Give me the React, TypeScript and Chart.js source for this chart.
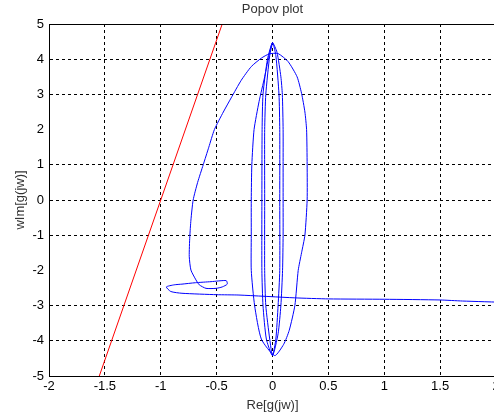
import React, { useEffect, useRef } from "react";
import { Chart, registerables } from "chart.js";

Chart.register(...registerables);

const titleText = "Popov plot";
const xTitle = "Re[g(jw)]";
const yTitle = "wIm[g(jw)]";

const xTicks = [-2, -1.5, -1, -0.5, 0, 0.5, 1, 1.5, 2];
const yTicks = [-5, -4, -3, -2, -1, 0, 1, 2, 3, 4, 5];

// Popov line (red)
const popovLineRe = [-1.55, -0.45];
const popovLineWIm = [-5, 5];

// Popov curve (blue)
const curveRe = [
  2.1, 1.7, 1.5, 1.0, 0.5, 0.2, -0.3, -0.5, -0.81, -0.91, -0.95, -0.88, -0.81, -0.69, -0.55, -0.414,
  -0.405, -0.45, -0.505, -0.595, -0.655, -0.685, -0.73, -0.745, -0.74, -0.73, -0.71, -0.67, -0.62,
  -0.57, -0.52, -0.44, -0.37, -0.28, -0.19, -0.1, -0.03, 0.05, 0.14, 0.22, 0.26, 0.29, 0.305, 0.31,
  0.31, 0.29, 0.26, 0.23, 0.2, 0.15, 0.1, 0.02,
  -0.1, -0.16, -0.19, -0.19, -0.19, -0.185, -0.165, -0.12, -0.07, -0.025, 0,
  0.04, 0.075, 0.088, 0.095, 0.095, 0.095, 0.095, 0.09, 0.075, 0.05, 0,
  -0.055, -0.085, -0.095, -0.095, -0.093, -0.085, -0.045, 0,
  0.03, 0.058, 0.065, 0.065, 0.065, 0.05, 0.03, 0,
  -0.025, -0.06, -0.07, -0.07, -0.07, -0.06, -0.025, 0,
];
const curveWIm = [
  -2.91, -2.87, -2.84, -2.82, -2.81, -2.78, -2.7, -2.69, -2.65, -2.6, -2.47, -2.41, -2.39, -2.35, -2.32, -2.29,
  -2.39, -2.47, -2.51, -2.51, -2.41, -2.27, -1.99, -1.6, -1.04, -0.57, 0, 0.5, 1.0,
  1.5, 2.0, 2.5, 2.9, 3.4, 3.79, 4.03, 4.15, 4.16, 3.93, 3.5, 3.03, 2.5, 2.0, 1.0,
  0, -1.0, -1.5, -2.0, -3.0, -3.7, -4.1, -4.42,
  -3.95, -3.0, -2.0, -1.0, 0, 1.0, 2.0, 2.8, 3.5, 4.2, 4.47,
  4.2, 3.5, 3.0, 2.0, 1.0, 0, -1.0, -2.0, -3.0, -3.8, -4.42,
  -3.95, -3.0, -2.0, 0, 2.0, 3.0, 4.0, 4.47,
  4.1, 3.0, 2.0, 0, -2.0, -3.0, -3.95, -4.42,
  -3.95, -3.0, -2.0, 0, 2.0, 3.0, 4.1, 4.47,
];

const FONT = "'Liberation Sans', Arial, sans-serif";

const framePlugin = {
  id: "frame",
  afterDraw(chart: any) {
    const { ctx, chartArea } = chart;
    ctx.save();
    ctx.strokeStyle = "#000";
    ctx.lineWidth = 1;
    ctx.beginPath();
    ctx.moveTo(chartArea.left, chartArea.top + 0.5);
    ctx.lineTo(chartArea.right, chartArea.top + 0.5);
    ctx.stroke();
    ctx.restore();
  },
};

export default function App() {
  const ref = useRef<HTMLCanvasElement | null>(null);

  useEffect(() => {
    if (!ref.current) return;
    const gridColor = (c: any) =>
      c.tick && (c.tick.value === -2 || c.tick.value === 2 || c.tick.value === 5 || c.tick.value === -5)
        ? "rgba(0,0,0,0)"
        : "#000";
    const chart = new Chart(ref.current, {
      type: "scatter",
      data: {
        datasets: [
          {
            data: popovLineRe.map((x, i) => ({ x, y: popovLineWIm[i] })),
            showLine: true,
            borderColor: "#ff0000",
            borderWidth: 1,
            pointRadius: 0,
            tension: 0,
          },
          {
            data: curveRe.map((x, i) => ({ x, y: curveWIm[i] })),
            showLine: true,
            borderColor: "#0000ff",
            borderWidth: 1,
            pointRadius: 0,
            tension: 0.2,
          },
        ],
      },
      options: {
        responsive: false,
        animation: false,
        layout: { padding: 0 },
        plugins: {
          legend: { display: false },
          tooltip: { enabled: false },
          title: {
            display: true,
            text: titleText,
            fullSize: false,
            color: "#333",
            font: { family: FONT, size: 13, weight: "normal" },
            padding: { top: 1.5, bottom: 6.9 },
          },
        },
        scales: {
          x: {
            type: "linear",
            min: -2,
            max: 2,
            afterBuildTicks: (s: any) => {
              s.ticks = xTicks.map((v) => ({ value: v }));
            },
            afterFit: (s: any) => {
              s.height = 43;
              s.paddingLeft = 0;
              s.paddingRight = 0;
            },
            ticks: {
              color: "#000",
              font: { family: FONT, size: 13 },
              padding: 3,
              maxRotation: 0,
              autoSkip: false,
              callback: (v: any) => String(v),
            },
            grid: { color: gridColor, lineWidth: 1, drawTicks: false },
            border: { display: true, color: "#000", width: 1, dash: [3, 3] },
            title: {
              display: true,
              text: xTitle,
              color: "#333",
              font: { family: FONT, size: 13 },
              padding: { top: 0, bottom: 6 },
            },
          },
          y: {
            type: "linear",
            min: -5,
            max: 5,
            afterBuildTicks: (s: any) => {
              s.ticks = yTicks.map((v) => ({ value: v }));
            },
            afterFit: (s: any) => {
              s.width = 49;
              s.paddingTop = 0;
              s.paddingBottom = 0;
            },
            ticks: {
              color: "#000",
              font: { family: FONT, size: 13 },
              padding: 5,
              autoSkip: false,
              callback: (v: any) => String(v),
            },
            grid: { color: gridColor, lineWidth: 1, drawTicks: false },
            border: { display: true, color: "#000", width: 1, dash: [3, 3] },
            title: {
              display: true,
              text: yTitle,
              color: "#333",
              font: { family: FONT, size: 13 },
              padding: { top: 13, bottom: 0 },
            },
          },
        },
      },
      plugins: [framePlugin],
    } as any);
    return () => chart.destroy();
  }, []);

  return (
    <div
      style={{
        position: "absolute",
        left: 0,
        top: 0,
        width: 494,
        height: 419,
        overflow: "hidden",
        background: "#fff",
      }}
    >
      <canvas ref={ref} width={496} height={419} style={{ display: "block" }} />
    </div>
  );
}
